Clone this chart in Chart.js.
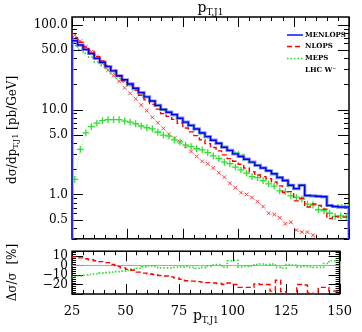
<!DOCTYPE html>
<html lang="en">
<head>
<meta charset="UTF-8">
<title>pT,J1</title>
<style>
  body { margin: 0; background: #fff; }
  #wrap { position: relative; width: 362px; height: 332px; }
  canvas { position: absolute; left: 0; }
  #top { top: 0; }
  #bottom { top: 240px; }
</style>
</head>
<body>
<div id="wrap">
  <canvas id="top" width="362" height="250"></canvas>
  <canvas id="bottom" width="362" height="92"></canvas>
</div>
<script src="https://cdn.jsdelivr.net/npm/chart.js"></script>
<script>
// bin left edges (GeV), bin width 2.5
const bins = [25, 27.5, 30, 32.5, 35, 37.5, 40, 42.5, 45, 47.5,
  50, 52.5, 55, 57.5, 60, 62.5, 65, 67.5, 70, 72.5,
  75, 77.5, 80, 82.5, 85, 87.5, 90, 92.5, 95, 97.5,
  100, 102.5, 105, 107.5, 110, 112.5, 115, 117.5, 120, 122.5,
  125, 127.5, 130, 132.5, 135, 137.5, 140, 142.5, 145, 147.5];

const menlops = [73, 64.5, 57.5, 51, 45.7, 40, 36, 32, 28.5, 25,
  22.4, 20, 17.8, 15.8, 14.1, 12.6, 11.2, 10, 9.3, 8.7,
  7.9, 7.1, 6.5, 5.9, 5.3, 4.8, 4.35, 4.0, 3.6, 3.3,
  3.0, 2.8, 2.6, 2.4, 2.2, 2.05, 1.9, 1.75, 1.58, 1.46,
  1.28, 1.17, 1.28, 0.97, 0.96, 0.95, 0.94, 0.74, 0.72, 0.71];

const nlops = [80.3, 70.3, 62.1, 54.6, 48.4, 42, 37.4, 33, 28.8, 24.8,
  21.8, 19.2, 16.9, 14.7, 13.0, 11.5, 10.1, 8.95, 8.3, 7.65,
  6.87, 6.07, 5.46, 4.93, 4.4, 3.96, 3.57, 3.26, 2.92, 2.64,
  2.46, 2.27, 2.05, 1.85, 1.69, 1.62, 1.53, 1.40, 1.26, 1.05,
  1.08, 0.84, 0.90, 0.71, 0.77, 0.74, 0.67, 0.52, 0.55, 0.54];

const meps = [63.5, 56.8, 51.2, 45.9, 41.4, 36.4, 33.1, 29.6, 26.5, 23.4,
  21.1, 19, 17.1, 15.3, 13.9, 12.5, 11.1, 9.75, 9.07, 8.48,
  7.74, 6.99, 6.44, 5.78, 5.14, 4.70, 4.33, 4.02, 3.64, 3.23,
  3.15, 2.95, 2.56, 2.38, 2.19, 2.07, 1.93, 1.77, 1.60, 1.43,
  1.24, 1.18, 1.29, 0.96, 0.95, 0.94, 0.92, 0.73, 0.73, 0.75];

// unlabelled marker curves (values at bin centres)
const redCross = [75, 64, 55, 48, 42, 35, 29, 25, 21.5, 18,
  15.5, 13.4, 11.3, 9.7, 8.1, 7.0, 6.0, 5.1, 4.6, 4.15,
  3.7, 3.2, 2.8, 2.45, 2.3, 2.05, 1.8, 1.6, 1.35, 1.2,
  1.05, 1.0, 0.92, 0.82, 0.72, 0.6, 0.58, 0.53, 0.45, 0.47,
  0.38, 0.36, 0.36, 0.33, 0.28, 0.26, 0.24, 0.22, 0.2, 0.19];

const greenCross = [1.5, 3.4, 5.3, 6.3, 6.9, 7.4, 7.6, 7.6, 7.6, 7.3,
  7.1, 6.8, 6.4, 6.1, 5.9, 5.4, 5.0, 4.85, 4.4, 4.15,
  3.8, 3.65, 3.45, 3.35, 3.1, 2.85, 2.65, 2.4, 2.3, 2.1,
  1.95, 1.78, 1.62, 1.58, 1.45, 1.33, 1.25, 1.1, 1.08, 0.96,
  0.93, 0.88, 0.77, 0.75, 0.66, 0.64, 0.6, 0.55, 0.56, 0.55];

// deviation from MENLOPS in percent
const nlopsDev = [10, 9, 8, 7, 6, 5, 4, 3, 1, -1,
  -2.5, -4, -5, -7, -8, -9, -9.5, -10.5, -11, -12,
  -13, -14.5, -16, -16.5, -17, -17.5, -18, -18.5, -19, -20,
  -18.5, -20, -23, -23, -23, -19.5, -20, -20, -27, -15.5,
  -27.5, -30, -30, -20, -20.5, -29, -30, -23, -23, -27];

const mepsDev = [-13, -12, -11, -10, -9.5, -9, -8, -7.5, -7, -6.5,
  -6, -5, -4, -3, -1.5, -0.5, -1, -2.5, -2.5, -2.5,
  -2, -1.5, -1, -2, -3, -2, -0.5, 0.5, 1, -2,
  5, 5.5, -1.5, -1, -0.5, 1, 1.5, 1, 1.5, -2,
  -3, 1, 0.5, -1.5, -1, -1.5, -2, -2, 2, 5];

const xTicks = [25, 50, 75, 100, 125, 150];
const yTicks = [0.5, 1, 5, 10, 50, 100];
const devTicks = [-20, -10, 0, 10];

const binWidth = bins[1] - bins[0];
const xMin = bins[0];
const xMax = bins[bins.length - 1] + binWidth;
const FONT = "'DejaVu Serif', 'Liberation Serif', serif";

Chart.defaults.font.family = FONT;
Chart.defaults.font.size = 12;
Chart.defaults.color = '#000';

// step outline for a histogram
function histPoints(vals, floor) {
  const pts = bins.map((b, i) => ({ x: b, y: vals[i] }));
  pts.push({ x: xMax, y: vals[vals.length - 1] });
  if (floor !== undefined) {
    pts.unshift({ x: xMin, y: floor });
    pts.push({ x: xMax, y: floor });
  }
  return pts;
}
function centrePoints(vals) {
  return bins.map((b, i) => ({ x: b + binWidth / 2, y: vals[i] }));
}

// text with a lowered part
function subText(ctx, x, y, parts) {
  let w = 0;
  parts.forEach(p => { ctx.font = p[1] + 'px ' + FONT; w += ctx.measureText(p[0]).width; });
  let cx = x - w / 2;
  parts.forEach(p => {
    ctx.font = p[1] + 'px ' + FONT;
    ctx.fillText(p[0], cx, y + p[2]);
    cx += ctx.measureText(p[0]).width;
  });
}

// frame + inward ticks
const frameTicks = {
  id: 'frameTicks',
  beforeDatasetsDraw(chart, args, opts) {
    const { ctx, chartArea: a, scales } = chart;
    const xs = scales.x, ys = scales.y;
    ctx.save();
    ctx.strokeStyle = '#000';
    ctx.lineWidth = 1;
    ctx.beginPath();
    for (let v = xMin; v <= xMax; v += 5) {
      const px = Math.round(xs.getPixelForValue(v)) + 0.5;
      const len = v % 25 === 0 ? 10 : 4;
      ctx.moveTo(px, a.top); ctx.lineTo(px, a.top + len);
      ctx.moveTo(px, a.bottom); ctx.lineTo(px, a.bottom - len);
    }
    let yv = [];
    if (opts.log) {
      for (let k = -1; k <= 2; k++) {
        for (let m = 1; m <= 9; m++) {
          const v = m * Math.pow(10, k);
          if (v >= ys.min && v <= ys.max) yv.push([v, (m === 1 || m === 5) ? 11 : 5]);
        }
      }
    } else {
      for (let v = ys.min; v < ys.max; v += 2) yv.push([v, v % 10 === 0 ? 11 : 4]);
    }
    yv.forEach(([v, len]) => {
      const py = Math.round(ys.getPixelForValue(v)) + 0.5;
      ctx.moveTo(a.left, py); ctx.lineTo(a.left + len, py);
      ctx.moveTo(a.right, py); ctx.lineTo(a.right - len, py);
    });
    ctx.stroke();
    ctx.lineWidth = 1.5;
    ctx.strokeRect(a.left, a.top, a.width, a.height);
    ctx.restore();
  }
};

const topDecor = {
  id: 'topDecor',
  afterDraw(chart) {
    const { ctx, chartArea: a } = chart;
    ctx.save();
    ctx.fillStyle = '#000';
    ctx.textBaseline = 'alphabetic';
    subText(ctx, (a.left + a.right) / 2, 12, [['p', 14, 0], ['T,J1', 9, 3]]);
    ctx.translate(13, (a.top + a.bottom) / 2 + 2);
    ctx.rotate(-Math.PI / 2);
    ctx.textBaseline = 'middle';
    subText(ctx, 0, 0, [['d\u03c3/dp', 12, 0], ['T,J1', 8, 3], [' [pb/GeV]', 12, 0]]);
    ctx.restore();

    // legend
    const ds = chart.data.datasets;
    const items = [[ds[1], 'MENLOPS'], [ds[2], 'NLOPS'], [ds[3], 'MEPS']];
    ctx.save();
    ctx.font = 'bold 7px ' + FONT;
    ctx.textBaseline = 'middle';
    const x0 = a.right - 62, y0 = a.top + 18;
    items.forEach(([d, label], i) => {
      const y = y0 + i * 12 - (i > 0 ? 0.5 : 0);
      ctx.strokeStyle = d.borderColor;
      ctx.lineWidth = d.borderWidth;
      ctx.setLineDash(d.borderDash || []);
      ctx.beginPath(); ctx.moveTo(x0, y); ctx.lineTo(x0 + 16, y); ctx.stroke();
      ctx.setLineDash([]);
      ctx.fillStyle = '#000';
      ctx.fillText(label, x0 + 18, y);
    });
    ctx.fillText('LHC W\u207b', x0 + 18, y0 + 35);
    ctx.restore();
  }
};

const bottomDecor = {
  id: 'bottomDecor',
  afterDraw(chart) {
    const { ctx, chartArea: a } = chart;
    ctx.save();
    ctx.fillStyle = '#000';
    ctx.textBaseline = 'alphabetic';
    subText(ctx, (a.left + a.right) / 2, 80, [['p', 14, 0], ['T,J1', 9, 3]]);
    ctx.translate(13, (a.top + a.bottom) / 2);
    ctx.rotate(-Math.PI / 2);
    ctx.textBaseline = 'middle';
    subText(ctx, 0, 0, [['\u0394\u03c3/\u03c3  [%]', 12, 0]]);
    ctx.restore();
  }
};

const stepLine = { stepped: 'after', pointRadius: 0, fill: false };

new Chart(document.getElementById('top'), {
  type: 'line',
  data: {
    datasets: [
      Object.assign({ label: 'MENLOPS band', data: histPoints(menlops, 0.01), borderColor: '#8c8cff', borderWidth: 3.2, order: 6 }, stepLine),
      Object.assign({ label: 'MENLOPS', data: histPoints(menlops, 0.01), borderColor: '#0000f0', borderWidth: 1.4, order: 0 }, stepLine),
      Object.assign({ label: 'NLOPS', data: histPoints(nlops), borderColor: '#ff0000', borderWidth: 1.4, borderDash: [5, 3], order: 1 }, stepLine),
      Object.assign({ label: 'MEPS', data: histPoints(meps), borderColor: '#22e022', borderWidth: 1.6, borderDash: [1.5, 2], order: 2 }, stepLine),
      {
        label: 'red markers', data: centrePoints(redCross), borderColor: '#ff8a8a', borderWidth: 0.9,
        borderDash: [1, 1.5], pointStyle: 'crossRot', pointRadius: 2.6, pointBorderColor: '#ff4040',
        pointBorderWidth: 1, fill: false, order: 4
      },
      {
        label: 'green markers', data: centrePoints(greenCross), borderColor: '#8aee8a', borderWidth: 0.9,
        borderDash: [1, 1.5], pointStyle: 'cross', pointRadius: 3.4, pointBorderColor: '#30e030',
        pointBorderWidth: 1.3, fill: false, order: 3
      }
    ]
  },
  options: {
    responsive: false,
    animation: false,
    layout: { padding: { left: 0, right: 13, top: 17, bottom: 5 } },
    plugins: { legend: { display: false }, tooltip: { enabled: false }, frameTicks: { log: true } },
    scales: {
      x: { type: 'linear', min: xMin, max: xMax, display: false },
      y: {
        type: 'logarithmic', min: 0.316, max: 123,
        grid: { display: false, drawTicks: false }, border: { display: false },
        afterBuildTicks: s => { s.ticks = yTicks.map(v => ({ value: v })); },
        afterFit: s => { s.width = 72; },
        ticks: { padding: 4, autoSkip: false, callback: v => Number(v).toFixed(1) }
      }
    }
  },
  plugins: [frameTicks, topDecor]
});

new Chart(document.getElementById('bottom'), {
  type: 'line',
  data: {
    datasets: [
      Object.assign({ label: 'MENLOPS', data: histPoints(bins.map(() => 0)), borderColor: '#9a9aff', borderWidth: 1, order: 3 }, stepLine),
      Object.assign({ label: 'NLOPS', data: histPoints(nlopsDev), borderColor: '#ff0000', borderWidth: 1.4, borderDash: [5, 3], order: 1 }, stepLine),
      Object.assign({ label: 'MEPS', data: histPoints(mepsDev), borderColor: '#22e022', borderWidth: 1.6, borderDash: [1.5, 2], order: 2 }, stepLine)
    ]
  },
  options: {
    responsive: false,
    animation: false,
    layout: { padding: { left: 0, right: 13, top: 5, bottom: 0 } },
    plugins: { legend: { display: false }, tooltip: { enabled: false }, frameTicks: { log: false } },
    scales: {
      x: {
        type: 'linear', min: xMin, max: xMax,
        grid: { display: false, drawTicks: false }, border: { display: false },
        afterBuildTicks: s => { s.ticks = xTicks.map(v => ({ value: v })); },
        afterFit: s => { s.height = 38; },
        ticks: { padding: 10, maxRotation: 0, autoSkip: false, font: { size: 13 } }
      },
      y: {
        type: 'linear', min: -30, max: 15,
        grid: { display: false, drawTicks: false }, border: { display: false },
        afterBuildTicks: s => { s.ticks = devTicks.map(v => ({ value: v })); },
        afterFit: s => { s.width = 72; },
        ticks: { padding: 4, autoSkip: false, callback: v => String(v).replace('-', '\u2212') }
      }
    }
  },
  plugins: [frameTicks, bottomDecor]
});
</script>
</body>
</html>
